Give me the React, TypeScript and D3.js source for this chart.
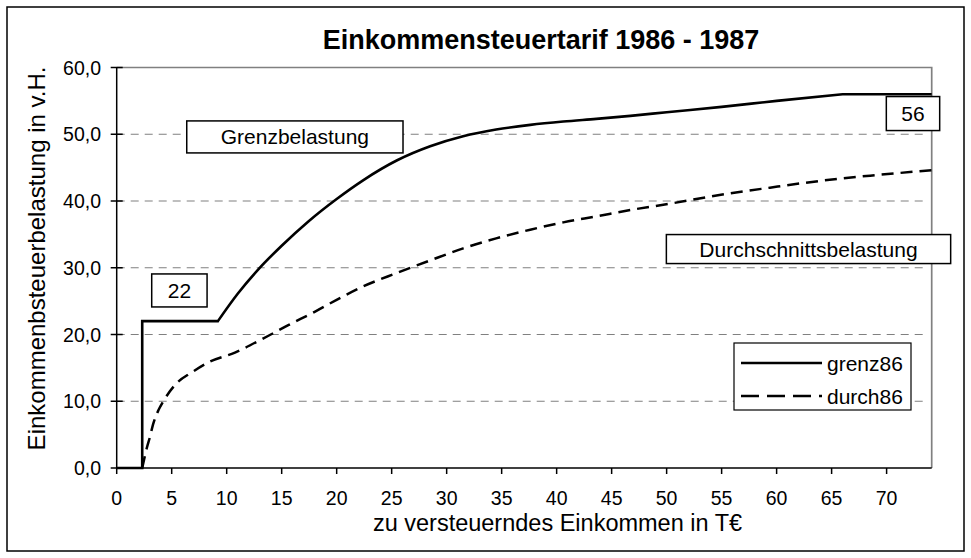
import React, { useEffect, useRef } from "react"
import * as d3 from "d3"

const titleText = "Einkommensteuertarif 1986 - 1987"
const xTitle = "zu versteuerndes Einkommen in T€"
const yTitle = "Einkommenbsteuerbelastung in v.H."

const xTicks = [0, 5, 10, 15, 20, 25, 30, 35, 40, 45, 50, 55, 60, 65, 70]
const yTicks = [0, 10, 20, 30, 40, 50, 60]
const gridTicks = [10, 20, 30, 40, 50]

// Grenzbelastung (grenz86)
// index 0-3: zero zone + flat 22% zone, 3-21: progression zone (curved), 21-22: flat 56%
const grenzX = [0, 2.32, 2.32, 9.2, 11, 12.9, 15, 17.4, 20, 22.4, 25.5, 28.5, 31.5, 34.5, 37.6, 40.6, 43.6, 46.7, 50, 55, 60, 66, 74.1]
const grenzY = [0, 0, 22, 22, 26.1, 29.8, 33.3, 36.9, 40.3, 43.1, 46.1, 48.2, 49.7, 50.7, 51.4, 51.9, 52.3, 52.75, 53.3, 54.1, 55.0, 56, 56]

// Durchschnittsbelastung (durch86)
const durchX = [2.32, 2.73, 3.03, 3.3, 3.78, 4.24, 5.45, 6.8, 8.3, 10.75, 13.2, 15.6, 18.0, 20.45, 22.4, 25.45, 28.5, 31.5, 34.5, 37.6, 40.6, 43.6, 46.7, 50.3, 54.8, 59.4, 63.9, 68.5, 74.1]
const durchY = [0, 2.95, 4.7, 6.5, 8.6, 10.0, 12.7, 14.3, 15.8, 17.3, 19.3, 21.4, 23.4, 25.6, 27.2, 29.2, 31.1, 32.9, 34.4, 35.7, 36.8, 37.7, 38.65, 39.6, 40.9, 42.0, 43.0, 43.8, 44.6]

const seriesNames = ["grenz86", "durch86"]

// text boxes: [label, x value, y value] for the box centre
const boxLabels: [string, number, number][] = [
	["Grenzbelastung", 16.2, 49.6],
	["22", 5.7, 26.6],
	["56", 72.4, 53.1],
	["Durchschnittsbelastung", 62.9, 32.8],
]

const W = 971
const H = 558
const font = "'Liberation Sans', Arial, Helvetica, sans-serif"

const App: React.FC = () => {
	const ref = useRef<SVGSVGElement>(null)

	useEffect(() => {
		const svg = d3.select(ref.current)
		svg.selectAll("*").remove()

		const left = 116.7
		const right = 931.7
		const top = 67.5
		const bottom = 468

		const x = d3.scaleLinear().domain([0, 74.1]).range([left, right])
		const y = d3.scaleLinear().domain([0, 60]).range([bottom, top])

		// outer frame
		svg.append("rect")
			.attr("x", 7)
			.attr("y", 7)
			.attr("width", W - 14)
			.attr("height", H - 14)
			.attr("fill", "white")
			.attr("stroke", "black")
			.attr("stroke-width", 1.5)

		// title
		svg.append("text")
			.attr("x", 541)
			.attr("y", 49)
			.attr("text-anchor", "middle")
			.attr("font-family", font)
			.attr("font-weight", "bold")
			.attr("font-size", 27)
			.text(titleText)

		// grid
		svg.append("g")
			.selectAll("line")
			.data(gridTicks)
			.join("line")
			.attr("x1", left)
			.attr("x2", right - 6)
			.attr("y1", (d) => y(d))
			.attr("y2", (d) => y(d))
			.attr("stroke", "#808080")
			.attr("stroke-width", 1.2)
			.attr("stroke-dasharray", "8,6")

		// plot border (top / right)
		svg.append("path")
			.attr("d", `M${left},${top}H${right}V${bottom}`)
			.attr("fill", "none")
			.attr("stroke", "#808080")
			.attr("stroke-width", 1.7)

		// axes
		const axes = svg.append("g").attr("stroke", "black").attr("stroke-width", 1.5)
		axes.append("line").attr("x1", left).attr("x2", left).attr("y1", top).attr("y2", bottom)
		axes.append("line").attr("x1", left).attr("x2", right).attr("y1", bottom).attr("y2", bottom)
		axes.selectAll(".yt")
			.data(yTicks)
			.join("line")
			.attr("class", "yt")
			.attr("x1", left - 6)
			.attr("x2", left + 6)
			.attr("y1", (d) => y(d))
			.attr("y2", (d) => y(d))
		axes.selectAll(".xt")
			.data(xTicks)
			.join("line")
			.attr("class", "xt")
			.attr("x1", (d) => x(d))
			.attr("x2", (d) => x(d))
			.attr("y1", bottom)
			.attr("y2", bottom + 6)

		const fmt = d3.format(".1f")
		svg.append("g")
			.selectAll("text")
			.data(yTicks)
			.join("text")
			.attr("x", 101)
			.attr("y", (d) => y(d))
			.attr("dy", "0.36em")
			.attr("text-anchor", "end")
			.attr("font-family", font)
			.attr("font-size", 19.5)
			.text((d) => fmt(d).replace(".", ","))

		svg.append("g")
			.selectAll("text")
			.data(xTicks)
			.join("text")
			.attr("x", (d) => x(d))
			.attr("y", 505)
			.attr("text-anchor", "middle")
			.attr("font-family", font)
			.attr("font-size", 19.5)
			.text((d) => d)

		// axis titles
		svg.append("text")
			.attr("x", 557.5)
			.attr("y", 531)
			.attr("text-anchor", "middle")
			.attr("font-family", font)
			.attr("font-size", 23.5)
			.text(xTitle)
		svg.append("text")
			.attr("transform", `translate(45,258.5) rotate(-90)`)
			.attr("text-anchor", "middle")
			.attr("font-family", font)
			.attr("font-size", 24)
			.text(yTitle)

		// lines
		const linLine = d3.line<number>()
			.x((d, i) => x(grenzX[i]))
			.y((d) => y(d))
		const monoLine = d3.line<number>()
			.x((d, i) => x(grenzX[i + 3]))
			.y((d) => y(d))
			.curve(d3.curveMonotoneX)
		const durchLine = d3.line<number>()
			.x((d, i) => x(durchX[i]))
			.y((d) => y(d))
			.curve(d3.curveMonotoneX)

		const last = grenzX.length - 1
		const grenzPath =
			(linLine(grenzY.slice(0, 4)) || "") +
			"L" + (monoLine(grenzY.slice(3, last)) || "").slice(1) +
			`L${x(grenzX[last])},${y(grenzY[last])}`

		svg.append("path")
			.attr("d", durchLine(durchY))
			.attr("fill", "none")
			.attr("stroke", "black")
			.attr("stroke-width", 2.5)
			.attr("stroke-dasharray", "12,7")
		svg.append("path")
			.attr("d", grenzPath)
			.attr("fill", "none")
			.attr("stroke", "black")
			.attr("stroke-width", 2.6)
			.attr("stroke-linejoin", "miter")

		// text boxes
		const padX: Record<string, number> = { "Grenzbelastung": 34, "22": 16, "56": 15, "Durchschnittsbelastung": 33 }
		const boxH: Record<string, number> = { "Grenzbelastung": 32, "22": 33, "56": 34, "Durchschnittsbelastung": 29 }
		boxLabels.forEach(([label, vx, vy]) => {
			const g = svg.append("g")
			const t = g.append("text")
				.attr("x", x(vx))
				.attr("y", y(vy))
				.attr("dy", "0.36em")
				.attr("text-anchor", "middle")
				.attr("font-family", font)
				.attr("font-size", 21)
				.text(label)
			const bb = (t.node() as SVGTextElement).getBBox()
			g.insert("rect", "text")
				.attr("x", x(vx) - bb.width / 2 - padX[label])
				.attr("y", y(vy) - boxH[label] / 2)
				.attr("width", bb.width + 2 * padX[label])
				.attr("height", boxH[label])
				.attr("fill", "white")
				.attr("stroke", "black")
				.attr("stroke-width", 1.5)
		})

		// legend
		const lg = svg.append("g")
		lg.append("rect")
			.attr("x", 734)
			.attr("y", 343)
			.attr("width", 177)
			.attr("height", 67)
			.attr("fill", "white")
			.attr("stroke", "black")
			.attr("stroke-width", 1.2)
		seriesNames.forEach((name, i) => {
			const ly = 363 + i * 33
			lg.append("line")
				.attr("x1", 741)
				.attr("x2", 822)
				.attr("y1", ly)
				.attr("y2", ly)
				.attr("stroke", "black")
				.attr("stroke-width", 2.5)
				.attr("stroke-dasharray", i === 0 ? null : "18,8")
			lg.append("text")
				.attr("x", 827)
				.attr("y", ly)
				.attr("dy", "0.36em")
				.attr("font-family", font)
				.attr("font-size", 21)
				.text(name)
		})
	}, [])

	return (
		<div style={{ position: "absolute", left: 0, top: 0 }}>
			<svg ref={ref} width={W} height={H} style={{ display: "block" }} />
		</div>
	)
}

export default App
